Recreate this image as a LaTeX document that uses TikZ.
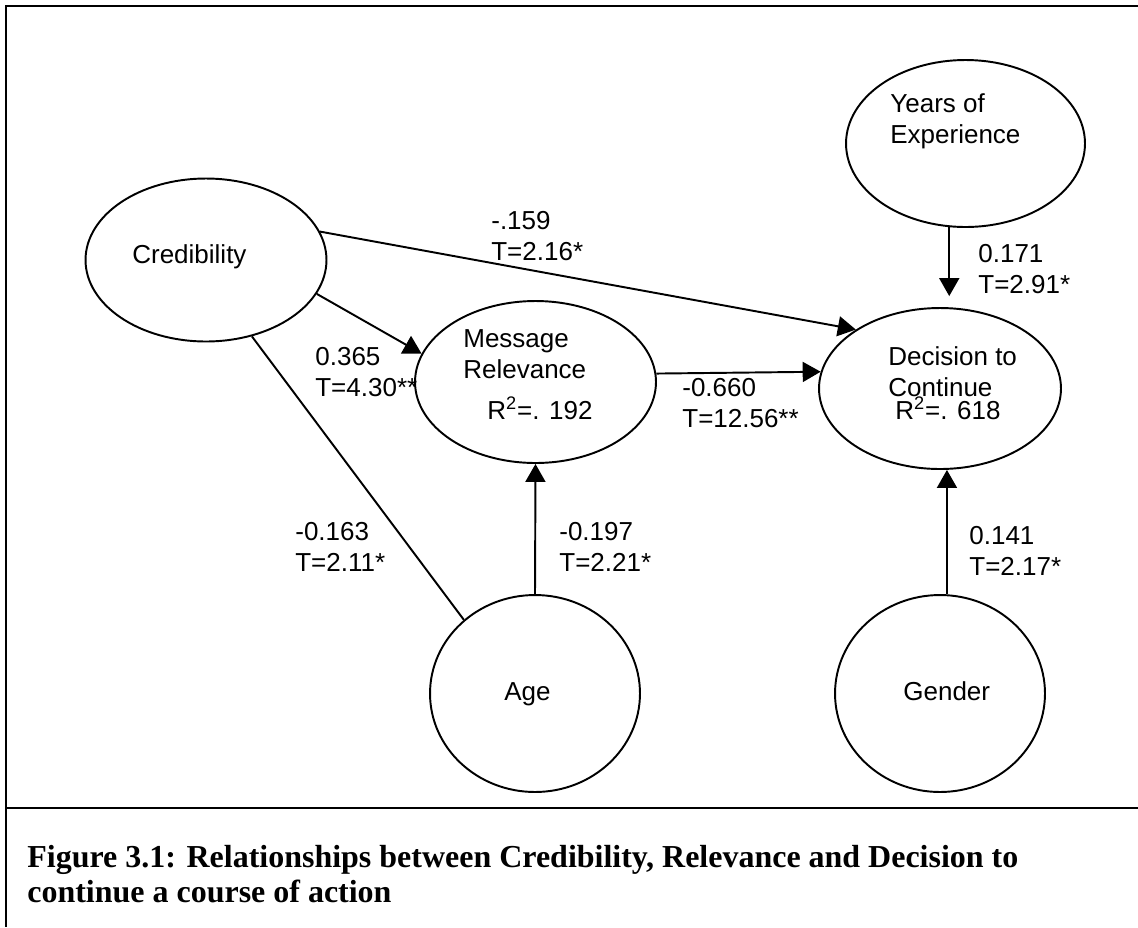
\documentclass[tikz,border=0pt]{standalone}
\usepackage{fontspec}
\setmainfont{Liberation Sans}
\newfontfamily\captionserif{Liberation Serif}
\usetikzlibrary{shapes.geometric, arrows.meta, positioning}
\tikzset{
  construct/.style={
    ellipse,
    draw=black,
    line width=1.1pt,
    inner sep=0pt
  },
  nodetext/.style={
    anchor=base west,
    inner sep=0pt,
    align=left,
    font=\fontsize{14.8pt}{17.1pt}\selectfont
  },
  coeff/.style={
    anchor=base west,
    inner sep=0pt,
    align=left,
    font=\fontsize{14.8pt}{17.1pt}\selectfont
  },
  effect/.style={
    line width=1.1pt,
    -{Triangle[width=0.4cm, length=0.36cm]}
  },
  link/.style={
    line width=1.1pt
  }
}

\begin{document}
\begin{tikzpicture}[x=0.02cm, y=-0.02cm]
  \useasboundingbox (0,0) rectangle (1138,927);

  % FRAME
  \draw[line width=1.1pt] (1138,6) -- (6,6) -- (6,927);
  \draw[line width=1.1pt] (6,808) -- (1138,808);

  % CONSTRUCTS
  \node (cred)   [construct, minimum width=4.82cm, minimum height=3.26cm] at (206,260) {};
  \node (mrel)   [construct, minimum width=4.82cm, minimum height=3.24cm] at (535.5,382) {};
  \node (dec)    [construct, minimum width=4.84cm, minimum height=3.22cm] at (940,388.5) {};
  \node (years)  [construct, minimum width=4.78cm, minimum height=3.34cm] at (965.5,143.5) {};
  \node (age)    [construct, minimum width=4.2cm, minimum height=3.94cm] at (535,693.5) {};
  \node (gender) [construct, minimum width=4.2cm, minimum height=3.94cm] at (940,693.5) {};

  \node (cred_t)   [nodetext] at (132,263) {Credibility};
  \node (mrel_t)   [nodetext] at (463,378) {Message\\Relevance};
  \node (mrel_r)   [nodetext] at (487,419) {R\textsuperscript{2}=. 192};
  \node (dec_t)    [nodetext] at (888,396) {Decision to\\Continue};
  \node (dec_r)    [nodetext] at (895,419) {R\textsuperscript{2}=. 618};
  \node (years_t)  [nodetext] at (890,143) {Years of\\Experience};
  \node (age_t)    [nodetext] at (504,700) {Age};
  \node (gender_t) [nodetext] at (903,700) {Gender};

  % PATHS
  \draw[effect] (cred.-17.6) -- (mrel.166.6);
  \draw[effect] (cred.14.3) -- (dec.145.5);
  \draw[link] (cred.-59.7) -- (age.134.8);
  \draw[effect] (mrel.4.3) -- (dec.172.6);
  \draw[effect] (age.north) -- (mrel.south);
  \draw[effect, shorten >=0.22cm] (years.259.4) -- (years.259.4 |- dec.north);
  \draw[effect] (gender.86) -- (gender.86 |- dec.south);

  % COEFFICIENTS
  \node (c_cred_dec)   [coeff] at (491,260) {-.159\\T=2.16*};
  \node (c_cred_mrel)  [coeff] at (315,396) {0.365\\T=4.30**};
  \node (c_mrel_dec)   [coeff] at (682,427) {-0.660\\T=12.56**};
  \node (c_cred_age)   [coeff] at (295,571) {-0.163\\T=2.11*};
  \node (c_age_mrel)   [coeff] at (559,571) {-0.197\\T=2.21*};
  \node (c_years_dec)  [coeff] at (978,293) {0.171\\T=2.91*};
  \node (c_gender_dec) [coeff] at (969,575) {0.141\\T=2.17*};

  % CAPTION
  \node (caption) [anchor=base west, inner sep=0pt, align=left,
    font=\captionserif\bfseries\fontsize{18.2pt}{19.4pt}\selectfont] at (27,902)
    {Figure 3.1: Relationships between Credibility, Relevance and Decision to\\continue a course of action};
\end{tikzpicture}
\end{document}
